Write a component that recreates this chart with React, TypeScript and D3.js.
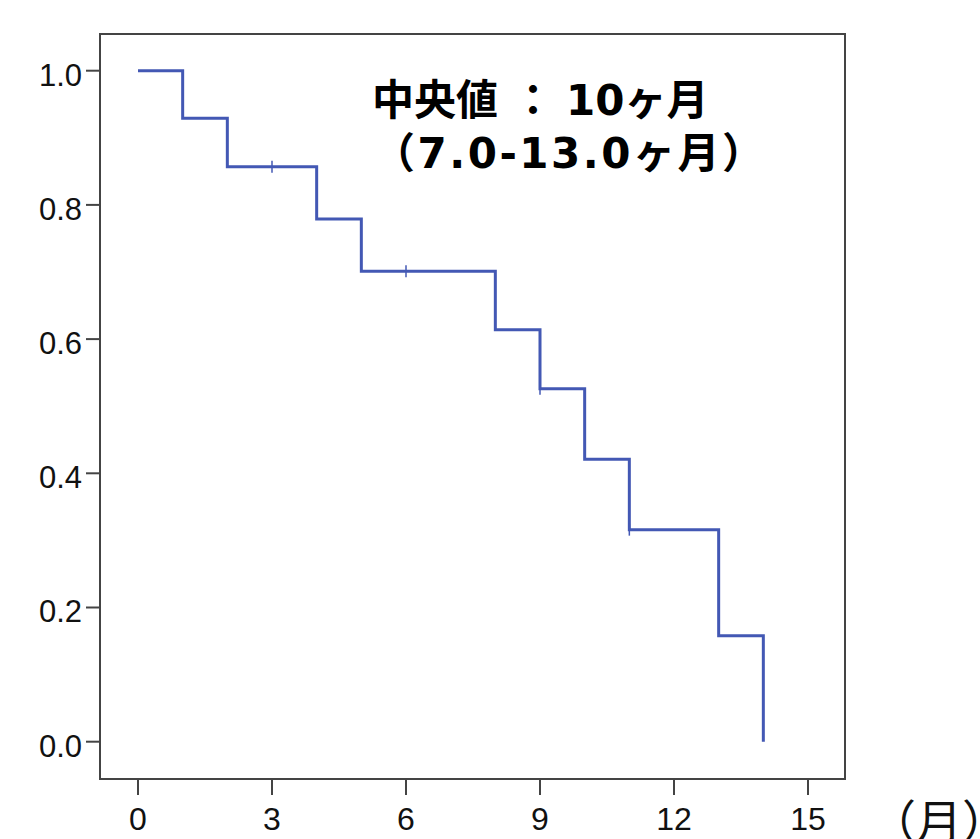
import React from "react";
import * as d3 from "d3";

const times = [0, 1, 2, 4, 5, 8, 9, 10, 11, 13, 14];
const survival = [1.0, 0.929, 0.857, 0.779, 0.701, 0.614, 0.526, 0.421, 0.316, 0.158, 0.0];
const censorTimes = [3, 6, 9, 11];
const censorSurv = [0.857, 0.701, 0.526, 0.316];
const xTicks = [0, 3, 6, 9, 12, 15];
const yTicks = [0.0, 0.2, 0.4, 0.6, 0.8, 1.0];
const annoLabel = "中央値";
const annoColon = "：";
const annoValue = "10ヶ月";
const annoRange = "（7.0-13.0ヶ月）";
const unitLabel = "（月）";

const W = 980;
const H = 839;
const frame = { left: 100, right: 845, top: 34, bottom: 779 };
const lineColor = "#4358b4";
const axisColor = "#444";

export default function App() {
  const x = d3.scaleLinear().domain([0, 15]).range([138, 808]);
  const y = d3.scaleLinear().domain([0, 1]).range([741.7, 70.7]);
  const pts: [number, number][] = times.map((t, i) => [t, survival[i]]);
  const line = d3
    .line<[number, number]>()
    .x((d) => x(d[0]))
    .y((d) => y(d[1]))
    .curve(d3.curveStepAfter);
  const tickFont = "'Liberation Sans', Arial, sans-serif";
  const annoFont = "'DejaVu Sans', 'Noto Sans CJK JP', sans-serif";
  return (
    <svg
      width={W}
      height={H}
      style={{ position: "absolute", left: 0, top: 0, background: "#fff" }}
    >
      <rect x={0} y={0} width={W} height={H} fill="#fff" />
      <rect
        x={frame.left}
        y={frame.top}
        width={frame.right - frame.left}
        height={frame.bottom - frame.top}
        fill="none"
        stroke={axisColor}
        strokeWidth={2}
      />
      {yTicks.map((v) => (
        <g key={"y" + v}>
          <line x1={frame.left - 14} x2={frame.left} y1={y(v)} y2={y(v)} stroke={axisColor} strokeWidth={2} />
          <text
            x={82}
            y={y(v)}
            dy="0.48em"
            textAnchor="end"
            fontFamily={tickFont}
            fontSize={31}
            fill="#111"
          >
            {v.toFixed(1)}
          </text>
        </g>
      ))}
      {xTicks.map((v) => (
        <g key={"x" + v}>
          <line x1={x(v)} x2={x(v)} y1={frame.bottom} y2={frame.bottom + 16} stroke={axisColor} strokeWidth={2} />
          <text
            x={x(v)}
            y={830}
            textAnchor="middle"
            fontFamily={tickFont}
            fontSize={32}
            fill="#111"
          >
            {v}
          </text>
        </g>
      ))}
      <path d={line(pts) || ""} fill="none" stroke={lineColor} strokeWidth={3} />
      {censorTimes.map((t, i) => (
        <line
          key={"c" + i}
          x1={x(t)}
          x2={x(t)}
          y1={y(censorSurv[i]) - 6}
          y2={y(censorSurv[i]) + 6}
          stroke={lineColor}
          strokeWidth={1.5}
        />
      ))}
      <text x={372} y={115} fontFamily={annoFont} fontWeight={700} fontSize={42} fill="#000">
        <tspan>{annoLabel}</tspan>
        <tspan dx={14}>{annoColon}</tspan>
        <tspan dx={12}>{annoValue}</tspan>
      </text>
      <text
        x={373}
        y={168}
        fontFamily={annoFont}
        fontWeight={700}
        fontSize={42}
        letterSpacing={2.5}
        fill="#000"
      >
        {annoRange}
      </text>
      <text
        x={870}
        y={838}
        fontFamily="'Noto Sans CJK JP', sans-serif"
        fontSize={46}
        fill="#111"
      >
        {unitLabel}
      </text>
    </svg>
  );
}
